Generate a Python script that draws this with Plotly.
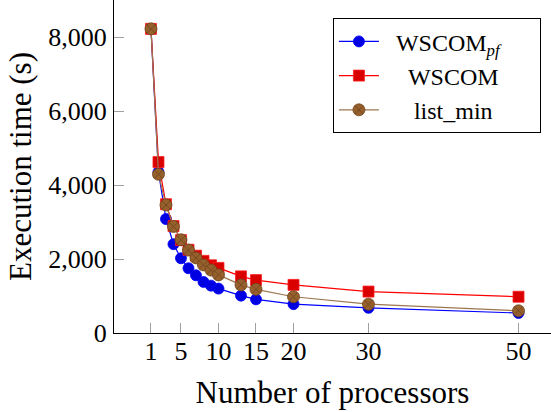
import plotly.graph_objects as go

processors = [1, 2, 3, 4, 5, 6, 7, 8, 9, 10, 13, 15, 20, 30, 50]
wscom_pf = [8220, 4350, 3080, 2400, 2020, 1750, 1560, 1380, 1280, 1200, 1010, 910, 780, 680, 540]
wscom = [8220, 4620, 3480, 2890, 2510, 2250, 2090, 1950, 1830, 1760, 1530, 1430, 1300, 1120, 980]
list_min = [8220, 4290, 3460, 2880, 2520, 2240, 2030, 1840, 1700, 1570, 1300, 1180, 980, 780, 600]

series_names = ["WSCOM<sub><i>pf</i></sub>", "WSCOM", "list_min"]
x_ticks = [1, 5, 10, 15, 20, 30, 50]
y_ticks = [0, 2000, 4000, 6000, 8000]
y_tick_labels = ["0", "2,000", "4,000", "6,000", "8,000"]

FONT = "Liberation Serif"
FS = 26
NB = "&nbsp;"
# centre legend labels like the reference (padding only)
lead = [2, 4, 5]
trail = [4, 6, 7]
legend_names = [NB * l + n + NB * t for n, l, t in zip(series_names, lead, trail)]

fig = go.Figure()
fig.add_trace(go.Scatter(
    x=processors, y=wscom_pf, mode="lines+markers", name=legend_names[0],
    line=dict(color="#0000ff", width=1.2),
    marker=dict(symbol="circle", size=11, color="#0000e0", line=dict(color="#0000ff", width=0.8)),
))
fig.add_trace(go.Scatter(
    x=processors, y=wscom, mode="lines+markers", name=legend_names[1],
    line=dict(color="#ff0000", width=1.2),
    marker=dict(symbol="square", size=11, color="#d90000", line=dict(color="#ff2020", width=0.8)),
))
fig.add_trace(go.Scatter(
    x=processors, y=list_min, mode="lines+markers", name=legend_names[2],
    line=dict(color="#9c7650", width=1.2),
    marker=dict(symbol="circle-x", size=12, color="#96602c", line=dict(color="#6e4420", width=0.8)),
))

xr = [-3.93, 54.33]
yr = [0, 9000]
tickstyle = dict(ticks="inside", ticklen=10, tickcolor="#a0a0a0", tickwidth=1)

fig.update_layout(
    width=551, height=412,
    margin=dict(l=114, r=0, t=0, b=79),
    paper_bgcolor="white", plot_bgcolor="white",
    font=dict(family=FONT, size=FS, color="black"),
    showlegend=True,
    legend=dict(
        x=0.501, y=0.945, xanchor="left", yanchor="top",
        bordercolor="black", borderwidth=1, bgcolor="white",
        font=dict(family=FONT, size=24), tracegroupgap=0,
        itemwidth=40,
    ),
    xaxis=dict(
        range=xr, tickvals=x_ticks, showgrid=False, zeroline=False, automargin=False,
        showline=True, linecolor="black", linewidth=1.2,
        title=dict(text="Number of processors", standoff=16), tickfont=dict(size=FS),
        ticklabelstandoff=-5,
        **tickstyle,
    ),
    yaxis=dict(
        range=yr, tickvals=y_ticks, ticktext=y_tick_labels, showgrid=False, zeroline=False,
        automargin=False,
        showline=True, linecolor="black", linewidth=1.2,
        title=dict(text="Execution time (s)", standoff=7), tickfont=dict(size=FS),
        ticklabelstandoff=1,
        **tickstyle,
    ),
    xaxis2=dict(
        range=xr, tickvals=x_ticks, overlaying="x", side="top", anchor="y", automargin=False,
        showticklabels=False, showgrid=False, zeroline=False, showline=False,
        **tickstyle,
    ),
    yaxis2=dict(
        range=yr, tickvals=y_ticks, overlaying="y", side="right", anchor="x", automargin=False,
        showticklabels=False, showgrid=False, zeroline=False, showline=False,
        **tickstyle,
    ),
)

fig.write_html("out.html", config={"displayModeBar": False},
               post_script="document.body.style.margin='0';")
